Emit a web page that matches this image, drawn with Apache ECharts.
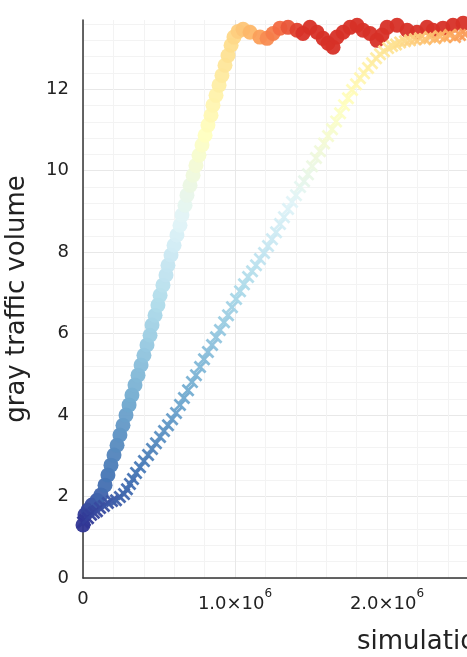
<!DOCTYPE html>
<html>
<head>
<meta charset="utf-8">
<script src="https://cdn.jsdelivr.net/npm/echarts@6/dist/echarts.min.js"></script>
<style>
  html, body { margin: 0; padding: 0; background: #fff; }
  #chart { width: 467px; height: 657px; }
</style>
</head>
<body>
<div id="chart"></div>
<script>
// circles run (simulation step, gray traffic volume)
const circleSteps = [0, 13000, 33000, 59000, 92000, 118000, 145000, 164000, 184000, 204000,
  224000, 243000, 263000, 283000, 303000, 322000, 342000, 362000, 382000, 401000,
  421000, 441000, 454000, 474000, 493000, 507000, 526000, 546000, 559000, 579000,
  599000, 618000, 638000, 651000, 671000, 684000, 704000, 724000, 743000, 763000,
  783000, 803000, 822000, 842000, 855000, 875000, 895000, 914000, 934000, 954000,
  974000, 993000, 1020000, 1053000, 1099000, 1164000, 1211000, 1250000, 1296000, 1349000,
  1408000, 1447000, 1493000, 1540000, 1579000, 1612000, 1645000, 1671000, 1711000, 1757000,
  1803000, 1842000, 1888000, 1934000, 1967000, 2000000, 2066000, 2132000, 2197000, 2263000,
  2303000, 2368000, 2434000, 2500000, 2546000];
const circleVolume = [1.30, 1.55, 1.67, 1.79, 1.91, 2.04, 2.28, 2.53, 2.77, 3.02,
  3.26, 3.51, 3.75, 4.00, 4.25, 4.49, 4.74, 4.98, 5.23, 5.47,
  5.72, 5.96, 6.21, 6.45, 6.70, 6.94, 7.19, 7.44, 7.68, 7.93,
  8.17, 8.42, 8.66, 8.91, 9.15, 9.40, 9.64, 9.89, 10.13, 10.38,
  10.63, 10.87, 11.12, 11.36, 11.61, 11.85, 12.10, 12.34, 12.59, 12.83,
  13.08, 13.28, 13.42, 13.47, 13.40, 13.28, 13.25, 13.37, 13.50, 13.52,
  13.45, 13.37, 13.52, 13.40, 13.25, 13.13, 13.03, 13.28, 13.40, 13.52,
  13.57, 13.45, 13.37, 13.20, 13.33, 13.52, 13.57, 13.45, 13.40, 13.52,
  13.45, 13.50, 13.57, 13.62, 13.55];

// crosses run
const crossSteps = [0, 13000, 33000, 53000, 72000, 92000, 112000, 138000, 164000, 191000,
  217000, 243000, 270000, 289000, 309000, 329000, 349000, 375000, 401000, 428000,
  454000, 480000, 507000, 533000, 559000, 586000, 612000, 638000, 664000, 691000,
  717000, 743000, 770000, 796000, 822000, 849000, 875000, 901000, 928000, 954000,
  980000, 1007000, 1033000, 1059000, 1086000, 1112000, 1138000, 1164000, 1191000, 1217000,
  1243000, 1270000, 1296000, 1322000, 1349000, 1375000, 1401000, 1428000, 1454000, 1480000,
  1507000, 1533000, 1559000, 1586000, 1612000, 1638000, 1665000, 1691000, 1717000, 1743000,
  1770000, 1796000, 1822000, 1849000, 1875000, 1901000, 1928000, 1954000, 1980000, 2007000,
  2033000, 2059000, 2086000, 2118000, 2151000, 2184000, 2217000, 2250000, 2283000, 2316000,
  2349000, 2382000, 2414000, 2447000, 2480000, 2513000, 2546000];
const crossVolume = [1.37, 1.42, 1.47, 1.55, 1.60, 1.64, 1.72, 1.77, 1.84, 1.89,
  1.91, 1.99, 2.06, 2.18, 2.31, 2.43, 2.58, 2.72, 2.87, 3.02,
  3.17, 3.31, 3.46, 3.61, 3.75, 3.90, 4.05, 4.25, 4.42, 4.61,
  4.81, 4.98, 5.18, 5.37, 5.55, 5.72, 5.91, 6.09, 6.28, 6.45,
  6.65, 6.85, 7.04, 7.21, 7.39, 7.53, 7.68, 7.83, 7.98, 8.15,
  8.32, 8.49, 8.69, 8.86, 9.06, 9.23, 9.40, 9.60, 9.74, 9.91,
  10.11, 10.31, 10.48, 10.67, 10.85, 11.02, 11.21, 11.41, 11.61, 11.78,
  11.98, 12.12, 12.27, 12.39, 12.52, 12.64, 12.76, 12.86, 12.93, 13.01,
  13.06, 13.10, 13.15, 13.18, 13.20, 13.23, 13.25, 13.23, 13.28, 13.25,
  13.30, 13.28, 13.33, 13.28, 13.33, 13.35, 13.33];

const yTicks = [0, 2, 4, 6, 8, 10, 12];
const xTicks = [0, 1000000, 2000000];

// RdYlBu reversed (blue -> red)
const palette = ['#313695', '#4575b4', '#74add1', '#abd9e9', '#e0f3f8',
  '#ffffbf', '#fee090', '#fdae61', '#f46d43', '#d73027'];

const xcross = 'path://M0,1.5L1.5,0L5,3.5L8.5,0L10,1.5L6.5,5L10,8.5L8.5,10L5,6.5L1.5,10L0,8.5L3.5,5Z';
const font = 'DejaVu Sans';

const chart = echarts.init(document.getElementById('chart'));

chart.setOption({
  backgroundColor: '#fff',
  animation: false,
  title: {
    text: 'simulation steps',
    left: 352,
    top: 624,
    textStyle: { fontFamily: font, fontSize: 26, fontWeight: 'normal', color: '#222', lineHeight: 26 }
  },
  grid: { left: 83, right: 0, top: 20, bottom: 79, outerBoundsMode: 'none', containLabel: false },
  visualMap: [
    { type: 'continuous', show: false, seriesIndex: 0, dimension: 0, min: 0, max: 1450000, inRange: { color: palette } },
    { type: 'continuous', show: false, seriesIndex: 1, dimension: 0, min: 0, max: 3100000, inRange: { color: palette } }
  ],
  xAxis: {
    type: 'value',
    min: 0,
    max: 2526000,
    interval: 1000000,
    axisLine: { lineStyle: { color: '#333', width: 1.5 } },
    axisTick: { show: false },
    splitLine: { lineStyle: { color: '#e8e8e8' } },
    minorTick: { show: false, splitNumber: 5 },
    minorSplitLine: { show: true, lineStyle: { color: '#f3f3f3' } },
    axisLabel: {
      showMaxLabel: false,
      margin: 10,
      fontFamily: font,
      fontSize: 18,
      lineHeight: 22,
      color: '#222',
      formatter: v => {
        if (xTicks.indexOf(v) < 0) return '';
        if (v === 0) return '0';
        return '{b|' + (v / 1e6).toFixed(1) + '×10}{s|6}';
      },
      rich: {
        b: { fontFamily: font, fontSize: 18, lineHeight: 32, color: '#222' },
        s: { fontFamily: font, fontSize: 12, lineHeight: 18, verticalAlign: 'top', color: '#222' }
      }
    }
  },
  yAxis: {
    type: 'value',
    min: 0,
    max: 13.7,
    interval: 2,
    name: 'gray traffic volume',
    nameLocation: 'middle',
    nameRotate: 90,
    nameGap: 53,
    nameTextStyle: { fontFamily: font, fontSize: 26, color: '#222' },
    axisLine: { show: true, lineStyle: { color: '#333', width: 1.5 } },
    axisTick: { show: false },
    splitLine: { showMaxLine: false, lineStyle: { color: '#e8e8e8' } },
    minorTick: { show: false, splitNumber: 5 },
    minorSplitLine: { show: true, lineStyle: { color: '#f3f3f3' } },
    axisLabel: {
      showMaxLabel: false,
      margin: 14,
      fontFamily: font,
      fontSize: 18,
      color: '#222',
      formatter: v => (yTicks.indexOf(v) >= 0 ? String(v) : '')
    }
  },
  series: [
    {
      type: 'scatter',
      data: circleSteps.map((s, i) => [s, circleVolume[i]]),
      symbol: 'circle',
      symbolSize: 15,
      itemStyle: { opacity: 0.95 }
    },
    {
      type: 'scatter',
      data: crossSteps.map((s, i) => [s, crossVolume[i]]),
      symbol: xcross,
      symbolSize: 13,
      itemStyle: { opacity: 0.95 }
    }
  ]
});
</script>
</body>
</html>
